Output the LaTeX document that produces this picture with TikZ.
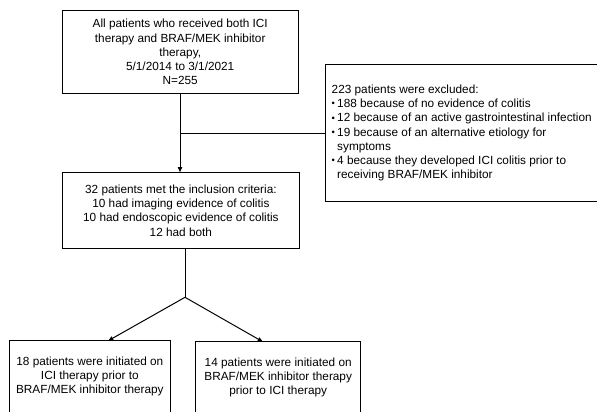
\documentclass[tikz,border=0pt]{standalone}
\usepackage{fontspec}
\usepackage{graphicx}
\setmainfont{Liberation Sans}
\usetikzlibrary{arrows.meta}
\newcommand\mybul{\makebox[5.5pt][l]{\raisebox{0.12ex}{\scalebox{0.8}{•}}}}
\begin{document}
\begin{tikzpicture}[x=1pt,y=-1pt,
  box/.style={draw,line width=1pt,inner sep=0pt,align=center,
    font=\fontsize{11.8}{14.2}\selectfont},
  txt/.style={inner sep=0pt,align=left,font=\fontsize{11.8}{14.2}\selectfont},
  conn/.style={line width=1pt},
  arr/.style={conn,-{Triangle[length=5pt,width=4.2pt]}}]
\useasboundingbox (0,0) rectangle (597,412);
\node[box,minimum width=235.7pt,minimum height=82.6pt] (top) at (180.2,52)
  {All patients who received both ICI\\therapy and BRAF/MEK inhibitor\\therapy,\\5/1/2014 to 3/1/2021\\N=255};
\node[box,minimum width=274.3pt,minimum height=136pt] (excl) at (462.85,133) {};
\node[txt,anchor=west] (excltxt) at (331.5,133)
  {223 patients were excluded:\\
   \mybul 188 because of no evidence of colitis\\
   \mybul 12 because of an active gastrointestinal infection\\
   \mybul 19 because of an alternative etiology for\\
   \hspace*{5.5pt}symptoms\\
   \mybul 4 because they developed ICI colitis prior to\\
   \hspace*{5.5pt}receiving BRAF/MEK inhibitor};
\node[box,minimum width=236.2pt,minimum height=75.6pt] (mid) at (180.9,210.5)
  {32 patients met the inclusion criteria:\\10 had imaging evidence of colitis\\10 had endoscopic evidence of colitis\\12 had both};
\node[box,minimum width=161.7pt,minimum height=72pt] (left) at (89.85,376.7)
  {18 patients were initiated on\\ICI therapy prior to\\BRAF/MEK inhibitor therapy};
\node[box,minimum width=165pt,minimum height=72pt] (right) at (278.2,377.7)
  {14 patients were initiated on\\BRAF/MEK inhibitor therapy\\prior to ICI therapy};
\coordinate (j1) at (180,133.3);
\coordinate (split) at (185,297.3);
\draw[arr] (top.south -| j1) -- (mid.north -| j1);
\draw[conn] (j1) -- (excl.west |- j1);
\draw[conn] (mid.south -| split) -- (split);
\draw[arr] (split) -- (108.3,340.7);
\draw[arr] (split) -- (262.7,341.7);
\end{tikzpicture}
\end{document}
